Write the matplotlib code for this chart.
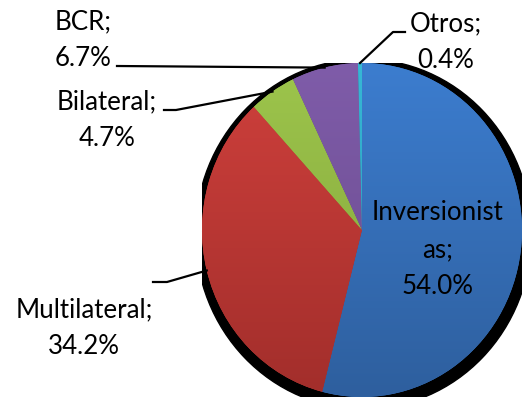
import numpy as np
import matplotlib
matplotlib.use("Agg")
import matplotlib.pyplot as plt
from matplotlib.patches import Ellipse
from matplotlib.colors import LinearSegmentedColormap

plt.rcParams['font.family'] = ['Lato', 'DejaVu Sans']

labels = ['Inversionist\nas', 'Multilateral', 'Bilateral', 'BCR', 'Otros']
shares = [54.0, 34.2, 4.7, 6.7, 0.4]
top_colors = ['#3c7dcf', '#cf403c', '#9dc54c', '#7f5ca9', '#36b8d6']
bottom_colors = ['#2e5f9e', '#a22e2b', '#82a33a', '#684a8c', '#2a96b0']

W, H = 532, 405
# pie geometry in pixels (the original is slightly taller than wide)
cx, cy, rx, ry = 362, 230, 160, 167

fig = plt.figure(figsize=(W / 100, H / 100), dpi=100)
ax = fig.add_axes([(cx - rx) / W, (H - cy - ry) / H, 2 * rx / W, 2 * ry / H])


def px(x, y):
    # pixel position in the image -> pie data coords
    return (x - cx) / rx, (cy - y) / ry


# black drop shadow
ax.add_patch(Ellipse((1.5 / rx, -4 / ry), 2 * (1 + 8 / rx), 2 * (1 + 8 / ry),
                     color='black', zorder=0))

wedges, _ = ax.pie(shares, colors=top_colors, startangle=90, counterclock=False,
                   radius=1, wedgeprops=dict(linewidth=0))
for w in wedges:
    w.set_zorder(1)

grad = np.linspace(0, 1, 256).reshape(-1, 1)
for w, c1, c2 in zip(wedges, top_colors, bottom_colors):
    cmap = LinearSegmentedColormap.from_list('g', [c1, c2])
    im = ax.imshow(grad, cmap=cmap, extent=(-1, 1, -1, 1), aspect='auto',
                   origin='upper', zorder=2, interpolation='bilinear')
    im.set_clip_path(w)

ax.set_aspect('auto')
ax.set_xlim(-1, 1)
ax.set_ylim(-1, 1)
ax.axis('off')

# label centres (pixels) and leader elbows
label_pos = [(438, 250), (84, 328), (107, 120), (83, 40), (446, 42)]
elbows = [None, [(153, 282), (167, 282)], [(164, 110), (176, 110)],
          [(117, 66)], [(405, 32), (393, 32)]]

for w, lab, s, pos, elb in zip(wedges, labels, shares, label_pos, elbows):
    ax.text(*px(*pos), f'{lab};\n{s:.1f}%', ha='center', va='center',
            fontsize=18.6, linespacing=1.6, zorder=5, clip_on=False)
    if elb is None:
        continue
    mid = np.deg2rad((w.theta1 + w.theta2) / 2)
    pts = [px(*p) for p in elb] + [(np.cos(mid), np.sin(mid))]
    xs, ys = zip(*pts)
    ax.plot(xs, ys, color='black', lw=1.6, zorder=4, clip_on=False)

fig.savefig('out.png', dpi=100)
